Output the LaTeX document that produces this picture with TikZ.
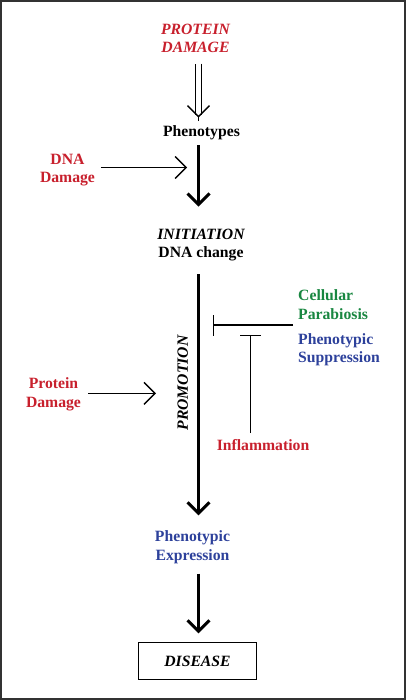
\documentclass[tikz,border=0pt]{standalone}
\usepackage{fontspec}
\setmainfont{Liberation Serif}
\usetikzlibrary{arrows.meta,calc}
\definecolor{cred}{RGB}{200,32,45}
\definecolor{cblue}{RGB}{45,65,155}
\definecolor{cgreen}{RGB}{25,135,65}
\definecolor{framec}{RGB}{50,50,50}
\begin{document}
\begin{tikzpicture}[x=1pt,y=-1pt,
  lbl/.style={font=\fontsize{15.7}{18.5}\selectfont\bfseries, inner sep=0pt, align=center},
  itlbl/.style={font=\fontsize{15.7}{18.5}\selectfont\bfseries\itshape, inner sep=0pt, align=center},
  bigarrow/.style={line width=3pt, -{Straight Barb[length=11pt,width=22pt]}},
  thinarrow/.style={line width=1.4pt, -{Straight Barb[length=11pt,width=22pt]}},
  inhib/.style={line width=1.4pt, -{Bar[width=21pt]}},
]
\useasboundingbox (0,0) rectangle (406,700);
\draw[line width=2pt, framec] (1,1) rectangle (405,699);
\coordinate (ax) at (198.5,0);

\node[itlbl, cred] (pd) at (195.5,38.5) {PROTEIN\\DAMAGE};
\node[lbl] (ph) at (201.5,132.5) {Phenotypes};
\node[lbl, cred] (dd) at (67.5,170) {DNA\\Damage};
\node[lbl] (init) at (201,245) {\itshape INITIATION\\DNA change};
\node[lbl, cgreen, align=left, anchor=west] (cp) at (298,304.5) {Cellular\\Parabiosis};
\node[lbl, cblue, align=left, anchor=west] (ps) at (298,349.5) {Phenotypic\\Suppression};
\node[lbl, cred] (prd) at (53.5,394.5) {Protein\\Damage};
\node[itlbl, rotate=90] (promo) at (182.7,383) {PROMOTION};
\node[lbl, cred] (inf) at (263,445.5) {Inflammation};
\node[lbl, cblue] (pe) at (192.5,547) {Phenotypic\\Expression};
\node[itlbl, draw, line width=1.5pt, minimum width=118pt, minimum height=37pt] (dis) at (197.5,661) {DISEASE};

% double arrow protein damage -> phenotypes
\draw[line width=1.4pt, double, double distance=4.6pt, shorten <=10.5pt, shorten >=10.5pt] (pd.south -| ax) -- (ph.north -| ax);
\draw[thinarrow, shorten >=7.5pt] ($(ph.north -| ax)+(0,-4)$) -- (ph.north -| ax);

% main axis
\draw[bigarrow, shorten <=5.5pt, shorten >=22pt] (ph.south -| ax) -- (init.north -| ax);
\draw[bigarrow, shorten <=13pt, shorten >=15pt] (init.south -| ax) -- (pe.north -| ax);
\draw[bigarrow, shorten <=10pt, shorten >=8.3pt] (pe.south -| ax) -- (dis.north -| ax);

% side inputs
\coordinate (dtip) at (187,167.5);
\draw[thinarrow, shorten <=5.7pt] (dd.east |- dtip) -- (dtip);
\coordinate (ptip) at (156,393.3);
\draw[thinarrow, shorten <=7pt] (prd.east |- ptip) -- (ptip);

% inhibitions
\coordinate (tstart) at (293,325);
\coordinate (tend) at (213,325);
\draw[inhib] (tstart) -- (tend);
\coordinate (tcol) at (250.7,335);
\draw[inhib, shorten <=6.5pt] (inf.north -| tcol) -- (tcol);
\end{tikzpicture}
\end{document}
